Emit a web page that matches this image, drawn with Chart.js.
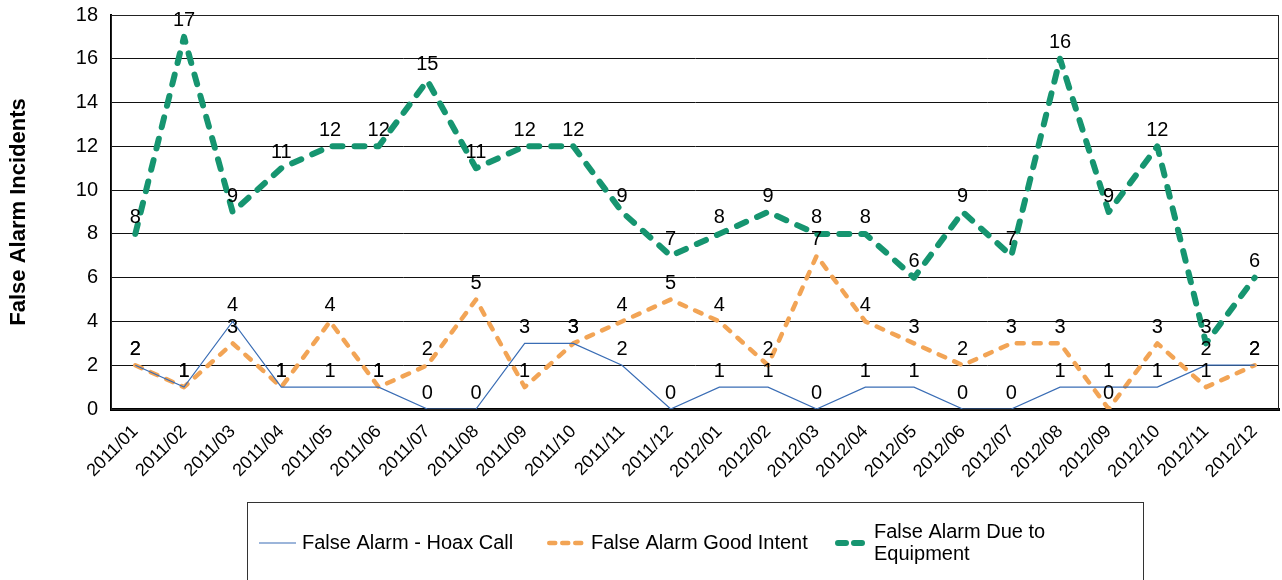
<!DOCTYPE html>
<html>
<head>
<meta charset="utf-8">
<script src="https://cdn.jsdelivr.net/npm/chart.js@4.4.1/dist/chart.umd.min.js"></script>
<style>
  html, body { margin: 0; padding: 0; background: #fff; }
  #wrap { width: 1282px; height: 580px; position: relative; }
</style>
</head>
<body>
<div id="wrap"><canvas id="grafico"></canvas></div>
<script>
const meses = ["2011/01","2011/02","2011/03","2011/04","2011/05","2011/06","2011/07","2011/08","2011/09","2011/10","2011/11","2011/12",
               "2012/01","2012/02","2012/03","2012/04","2012/05","2012/06","2012/07","2012/08","2012/09","2012/10","2012/11","2012/12"];
const hoaxCall   = [2,1,4,1,1,1,0,0,3,3,2,0,1,1,0,1,1,0,0,1,1,1,2,2];
const goodIntent = [2,1,3,1,4,1,2,5,1,3,4,5,4,2,7,4,3,2,3,3,0,3,1,2];
const equipment  = [8,17,9,11,12,12,15,11,12,12,9,7,8,9,8,8,6,9,7,16,9,12,3,6];
const yTicks = [0,2,4,6,8,10,12,14,16,18];

const fuente = "'Liberation Sans', Arial, sans-serif";
Chart.defaults.font.family = fuente;
Chart.defaults.color = "#000";

const azul = "#3a6db5";
const naranja = "#f2a455";
const verde = "#169570";

// etiquetas de valor encima de cada punto
const etiquetas = {
  id: "etiquetas",
  afterDatasetsDraw(chart) {
    const ctx = chart.ctx;
    ctx.save();
    ctx.fillStyle = "#000";
    ctx.font = "20px " + fuente;
    ctx.textAlign = "center";
    ctx.textBaseline = "middle";
    chart.data.datasets.forEach((ds, i) => {
      chart.getDatasetMeta(i).data.forEach((pt, j) => {
        ctx.fillText(String(ds.data[j]), pt.x, pt.y - 16);
      });
    });
    ctx.restore();
  }
};

// marco del área y leyenda con caja
const marcoYLeyenda = {
  id: "marcoYLeyenda",
  afterDraw(chart) {
    const ctx = chart.ctx;
    const a = chart.chartArea;
    ctx.save();
    ctx.strokeStyle = "#222";
    ctx.lineWidth = 1;
    ctx.strokeRect(a.left + 0.5, a.top + 0.5, a.right - a.left - 1, a.bottom - a.top);

    // caja de la leyenda
    ctx.strokeStyle = "#333";
    ctx.strokeRect(247.5, 502.5, 896, 100);

    const items = [
      { x: 259, w: 37, ds: chart.data.datasets[0], lines: ["False Alarm - Hoax Call"], y: 543 },
      { x: 547, w: 38, ds: chart.data.datasets[1], lines: ["False Alarm Good Intent"], y: 543 },
      { x: 835, w: 33, ds: chart.data.datasets[2], lines: ["False Alarm Due to", "Equipment"], y: 543 }
    ];
    ctx.font = "20px " + fuente;
    ctx.textBaseline = "middle";
    ctx.textAlign = "left";
    items.forEach(it => {
      ctx.beginPath();
      ctx.strokeStyle = it.ds.borderColor;
      ctx.lineWidth = it.ds.borderWidth;
      ctx.lineCap = it.ds.borderCapStyle || "butt";
      ctx.setLineDash(it.ds.legendDash || []);
      const cap = it.ds.borderCapStyle === "round" ? it.ds.borderWidth / 2 : 0;
      ctx.moveTo(it.x + cap, it.y);
      ctx.lineTo(it.x + it.w - cap, it.y);
      ctx.stroke();
      ctx.setLineDash([]);
      ctx.fillStyle = "#000";
      const tx = it.x + it.w + 6;
      if (it.lines.length === 1) {
        ctx.fillText(it.lines[0], tx, it.y);
      } else {
        ctx.fillText(it.lines[0], tx, it.y - 11);
        ctx.fillText(it.lines[1], tx, it.y + 11);
      }
    });
    ctx.restore();
  }
};

new Chart(document.getElementById("grafico"), {
  type: "line",
  data: {
    labels: meses,
    datasets: [
      {
        label: "False Alarm - Hoax Call",
        data: hoaxCall,
        borderColor: azul,
        borderWidth: 1.2,
        pointRadius: 0,
        tension: 0,
        legendDash: []
      },
      {
        label: "False Alarm Good Intent",
        data: goodIntent,
        borderColor: naranja,
        borderWidth: 4.5,
        borderDash: [7, 10],
        borderCapStyle: "round",
        borderJoinStyle: "round",
        pointRadius: 0,
        tension: 0,
        legendDash: [6, 7]
      },
      {
        label: "False Alarm Due to Equipment",
        data: equipment,
        borderColor: verde,
        borderWidth: 6,
        borderDash: [10, 12],
        borderCapStyle: "round",
        borderJoinStyle: "round",
        pointRadius: 0,
        tension: 0,
        legendDash: [8, 8]
      }
    ]
  },
  options: {
    responsive: true,
    maintainAspectRatio: false,
    animation: false,
    layout: { padding: { top: 15, right: 3, left: 0, bottom: 0 } },
    plugins: {
      legend: { display: false },
      tooltip: { enabled: false }
    },
    scales: {
      x: {
        offset: true,
        grid: { display: false, drawTicks: false },
        border: { display: true, color: "#000", width: 3 },
        ticks: {
          color: "#000",
          font: { size: 18 },
          minRotation: 45,
          maxRotation: 45,
          autoSkip: false,
          padding: 12
        },
        afterFit(scale) {
          scale.height = 171;
          scale.paddingLeft = 0;
          scale.paddingRight = 0;
        }
      },
      y: {
        min: 0,
        max: 18,
        afterBuildTicks(scale) { scale.ticks = yTicks.map(v => ({ value: v })); },
        grid: { color: "#111", lineWidth: 1, drawTicks: false },
        border: { display: true, color: "#000", width: 2 },
        ticks: { color: "#000", font: { size: 20 }, padding: 13 },
        title: {
          display: true,
          text: "False Alarm Incidents",
          color: "#000",
          font: { size: 22, weight: "bold" },
          padding: { top: 6, bottom: 0 }
        },
        afterFit(scale) {
          scale.width = 111;
          scale.paddingTop = 0;
          scale.paddingBottom = 0;
        }
      }
    }
  },
  plugins: [etiquetas, marcoYLeyenda]
});
</script>
</body>
</html>
